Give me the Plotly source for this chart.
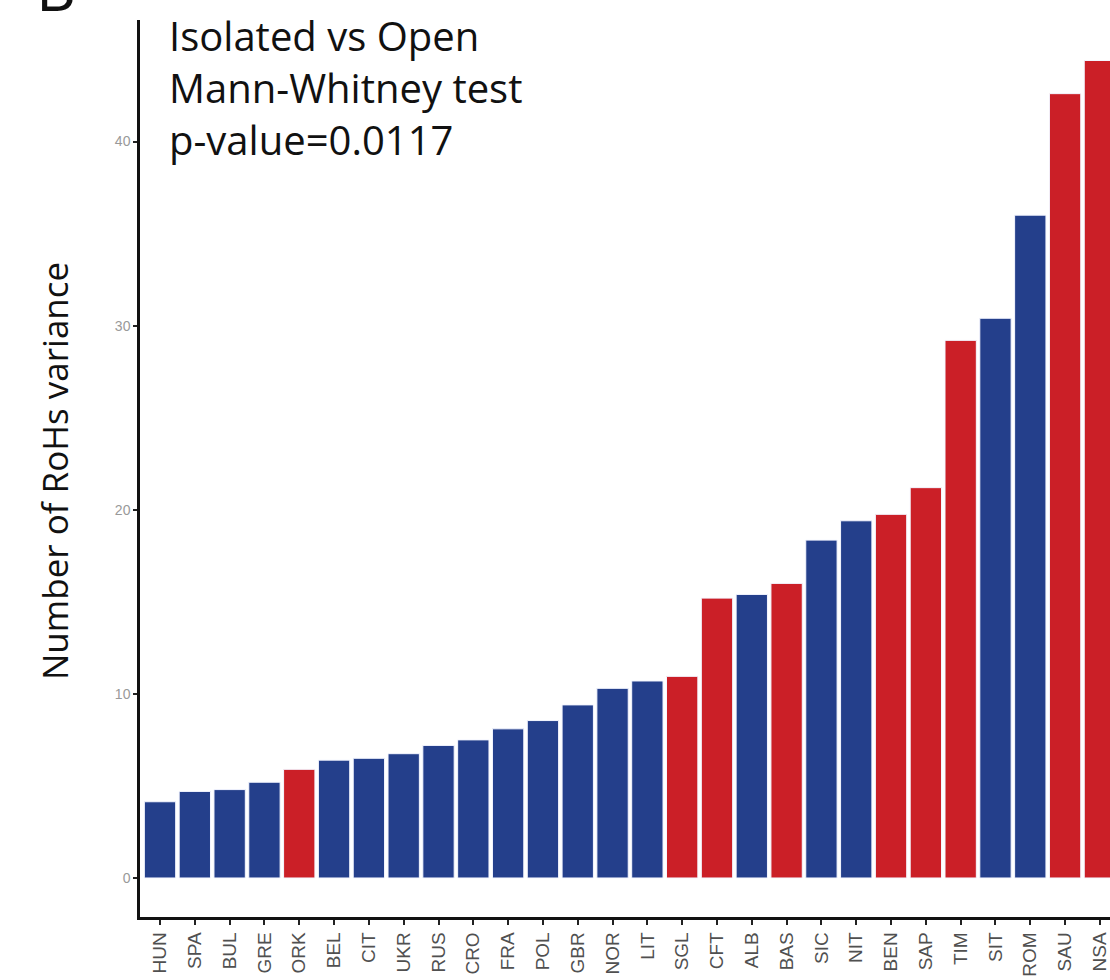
import plotly.graph_objects as go

# Populations ordered by RoHs variance
populations = ["HUN", "SPA", "BUL", "GRE", "ORK", "BEL", "CIT", "UKR", "RUS", "CRO",
               "FRA", "POL", "GBR", "NOR", "LIT", "SGL", "CFT", "ALB", "BAS", "SIC",
               "NIT", "BEN", "SAP", "TIM", "SIT", "ROM", "SAU", "NSA"]
rohs_variance = [4.14, 4.7, 4.8, 5.2, 5.9, 6.4, 6.5, 6.75, 7.2, 7.5,
                 8.1, 8.55, 9.4, 10.3, 10.7, 10.95, 15.2, 15.4, 16.0, 18.35,
                 19.4, 19.75, 21.2, 29.2, 30.4, 36.0, 42.6, 44.4]
# Population type: isolated or open
pop_type = ["open", "open", "open", "open", "isolated", "open", "open", "open", "open", "open",
            "open", "open", "open", "open", "open", "isolated", "isolated", "open", "isolated", "open",
            "open", "isolated", "isolated", "isolated", "open", "open", "isolated", "isolated"]

type_colors = {"isolated": "#CB1F27", "open": "#243F8B"}
bar_colors = [type_colors[t] for t in pop_type]

fig = go.Figure(
    go.Bar(
        x=populations,
        y=rohs_variance,
        marker=dict(color=bar_colors, line=dict(color="#f4f6ff", width=1)),
        showlegend=False,
    )
)

fig.update_layout(
    width=1110,
    height=980,
    margin=dict(l=140, r=0, t=20, b=63),
    plot_bgcolor="white",
    paper_bgcolor="white",
    bargap=0.1,
    xaxis=dict(
        range=[-0.575, 27.29],
        showline=True, linecolor="#111111", linewidth=2.5,
        ticks="outside", ticklen=5, tickwidth=2, tickcolor="#222222",
        tickangle=-90,
        tickfont=dict(family="Liberation Sans, Arial", size=19, color="#505050"),
        showgrid=False, zeroline=False,
    ),
    yaxis=dict(
        range=[-2.12, 46.6],
        tickvals=[0, 10, 20, 30, 40],
        showline=True, linecolor="#111111", linewidth=2.5,
        ticks="outside", ticklen=4, tickwidth=2, tickcolor="#222222",
        tickfont=dict(family="Liberation Sans, Arial", size=14, color="#999999"),
        showgrid=False, zeroline=False,
    ),
)

text_font = dict(family="Open Sans", size=40, color="#111111")
stat_lines = ["Isolated vs Open", "Mann-Whitney test", "p-value=0.0117"]
line_tops_px = [6, 58, 110]
plot_h = 980 - 20 - 63
for line, top in zip(stat_lines, line_tops_px):
    fig.add_annotation(
        text=line, xref="paper", yref="paper",
        x=(167 - 140) / 970, y=1 - (top - 20) / plot_h,
        xanchor="left", yanchor="top", showarrow=False, font=text_font,
    )

# Y axis title
fig.add_annotation(
    text="Number of RoHs variance", xref="paper", yref="paper",
    x=(55 - 140) / 970, y=(917 - 471) / plot_h, textangle=-90,
    xanchor="center", yanchor="middle", showarrow=False,
    font=dict(family="Open Sans", size=35, color="#111111"),
)

# Panel letter
fig.add_annotation(
    text="B", xref="paper", yref="paper",
    x=(34 - 140) / 970, y=1 + (20 - 31) / plot_h,
    xanchor="left", yanchor="bottom", showarrow=False,
    font=dict(family="Open Sans", size=62, color="#111111"),
)

fig.write_html("out.html")
